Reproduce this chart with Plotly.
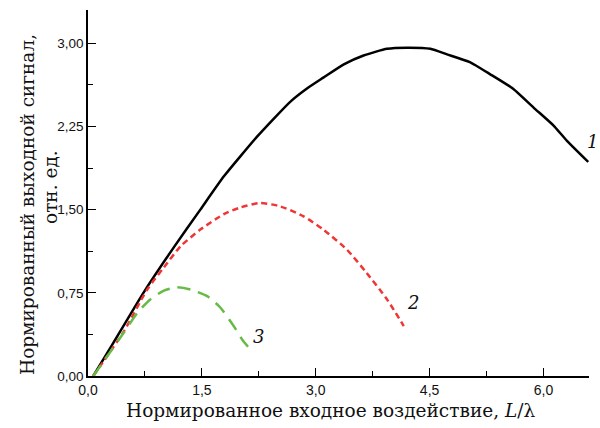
import plotly.graph_objects as go

# Curve 1 (solid black)
x1 = [0.07, 0.30, 0.73, 1.13, 1.48, 1.79, 2.23, 2.66, 2.88, 3.10, 3.37, 3.63, 3.94, 4.20, 4.51, 4.73, 5.03, 5.30, 5.60, 5.87, 6.13, 6.31, 6.59]
y1 = [0.00, 0.26, 0.75, 1.16, 1.50, 1.80, 2.16, 2.47, 2.59, 2.69, 2.81, 2.89, 2.95, 2.96, 2.95, 2.90, 2.83, 2.72, 2.59, 2.42, 2.26, 2.12, 1.93]

# Curve 2 (red dashed)
x2 = [0.07, 0.47, 0.78, 1.00, 1.22, 1.48, 1.79, 2.01, 2.27, 2.53, 2.84, 3.10, 3.41, 3.67, 3.94, 4.16]
y2 = [0.00, 0.40, 0.78, 0.98, 1.17, 1.32, 1.46, 1.52, 1.56, 1.53, 1.44, 1.32, 1.14, 0.93, 0.69, 0.45]

# Curve 3 (green long-dashed)
x3 = [0.07, 0.47, 0.65, 0.82, 1.00, 1.17, 1.35, 1.57, 1.74, 1.92, 2.05, 2.18]
y3 = [0.00, 0.39, 0.57, 0.69, 0.77, 0.80, 0.78, 0.72, 0.62, 0.45, 0.31, 0.21]

curve_labels = ["1", "2", "3"]
x_ticks = [0.0, 1.5, 3.0, 4.5, 6.0]
y_ticks = [0.0, 0.75, 1.5, 2.25, 3.0]

SERIF = "DejaVu Serif"
SANS = "Liberation Sans, Arial, sans-serif"
TXT = "#111111"

fig = go.Figure()
fig.add_trace(go.Scatter(x=x1, y=y1, mode="lines", line=dict(color="black", width=2.5, shape="spline", smoothing=0.5), showlegend=False))
fig.add_trace(go.Scatter(x=x2, y=y2, mode="lines", line=dict(color="#f03535", width=2.5, dash="6px,4px", shape="spline", smoothing=0.6), showlegend=False))
fig.add_trace(go.Scatter(x=x3, y=y3, mode="lines", line=dict(color="#66bb44", width=2.5, dash="13px,8px", shape="spline", smoothing=0.6), showlegend=False))

fig.update_layout(
    width=600, height=428,
    margin=dict(l=88, r=11, t=10, b=52),
    paper_bgcolor="white", plot_bgcolor="white",
    separators=", ",
    xaxis=dict(range=[0, 6.6], tickvals=x_ticks, tickformat=".1f",
               ticks="inside", ticklen=8, tickwidth=1, tickcolor="black",
               minor=dict(ticks="inside", ticklen=5, dtick=0.75, tick0=0, tickcolor="black"),
               showline=True, linecolor="black", linewidth=1.5, showgrid=False, zeroline=False,
               tickfont=dict(family=SANS, size=14, color=TXT)),
    yaxis=dict(range=[0, 3.3], tickvals=y_ticks, tickformat=".2f",
               ticks="inside", ticklen=8, tickwidth=1, tickcolor="black",
               minor=dict(ticks="inside", ticklen=5, dtick=0.375, tick0=0, tickcolor="black"),
               showline=True, linecolor="black", linewidth=1.5, showgrid=False, zeroline=False,
               tickfont=dict(family=SANS, size=13.5, color=TXT)),
)

annots = [
    dict(text="Нормированное входное воздействие, <i>L</i>/λ", xref="paper", yref="paper",
         x=0.484, y=0, yshift=-34, xanchor="center", yanchor="middle", showarrow=False,
         font=dict(family=SERIF, size=18.5, color=TXT)),
    dict(text="Нормированный выходной сигнал,", xref="paper", yref="paper",
         x=0, y=0.5, xshift=-61, yshift=-12, xanchor="center", yanchor="middle", textangle=-90, showarrow=False,
         font=dict(family=SERIF, size=18.5, color=TXT)),
    dict(text="отн. ед.", xref="paper", yref="paper",
         x=0, y=0.5, xshift=-38, yshift=6, xanchor="center", yanchor="middle", textangle=-90, showarrow=False,
         font=dict(family=SERIF, size=18.5, color=TXT)),
    dict(text="<i>" + curve_labels[0] + "</i>", xref="paper", yref="paper", x=1, y=0.64, xshift=-4,
         xanchor="left", yanchor="middle", showarrow=False, font=dict(family=SERIF, size=18, color=TXT)),
    dict(text="<i>" + curve_labels[1] + "</i>", x=4.28, y=0.66, xanchor="center", yanchor="middle",
         showarrow=False, font=dict(family=SERIF, size=18, color=TXT)),
    dict(text="<i>" + curve_labels[2] + "</i>", x=2.25, y=0.36, xanchor="center", yanchor="middle",
         showarrow=False, font=dict(family=SERIF, size=18, color=TXT)),
]
fig.update_layout(annotations=annots)
fig.write_html("out.html")
